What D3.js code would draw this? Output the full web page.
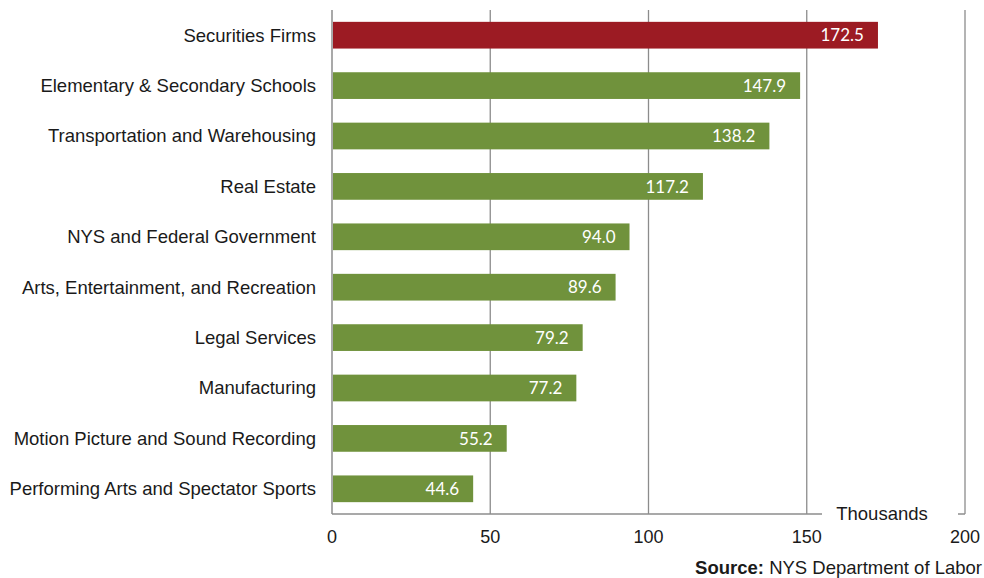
<!DOCTYPE html>
<html>
<head>
<meta charset="utf-8">
<script src="https://cdn.jsdelivr.net/npm/d3@7"></script>
<style>
  html, body { margin: 0; padding: 0; background: #fff; }
  svg { display: block; }
</style>
</head>
<body>
<svg id="chart" width="984" height="578"></svg>
<script>
// Employment by industry, thousands
const categories = [
  "Securities Firms",
  "Elementary & Secondary Schools",
  "Transportation and Warehousing",
  "Real Estate",
  "NYS and Federal Government",
  "Arts, Entertainment, and Recreation",
  "Legal Services",
  "Manufacturing",
  "Motion Picture and Sound Recording",
  "Performing Arts and Spectator Sports"
];
const values = [172.5, 147.9, 138.2, 117.2, 94.0, 89.6, 79.2, 77.2, 55.2, 44.6];
const highlighted = ["Securities Firms"];
const xTicks = [0, 50, 100, 150, 200];

const svg = d3.select("#chart");
const plot = { left: 332, right: 965, top: 10, bottom: 514 };
const labelFont = "'Liberation Sans', Arial, sans-serif";

const x = d3.scaleLinear().domain([0, 200]).range([plot.left, plot.right]);
const y = d3.scaleBand().domain(categories).range([plot.top, plot.bottom]).paddingInner(0.47).paddingOuter(0.235);

const gridColor = "#8c8c8c";

// vertical gridlines
svg.append("g").selectAll("line")
  .data(xTicks.slice(1))
  .join("line")
  .attr("x1", d => x(d)).attr("x2", d => x(d))
  .attr("y1", plot.top).attr("y2", plot.bottom)
  .attr("stroke", gridColor).attr("stroke-width", 1.3);

// bars
svg.append("g").selectAll("rect")
  .data(categories)
  .join("rect")
  .attr("x", x(0) + 1)
  .attr("y", d => y(d))
  .attr("width", (d, i) => x(values[i]) - x(0) - 1)
  .attr("height", y.bandwidth())
  .attr("fill", d => highlighted.includes(d) ? "#9c1b23" : "#70923c");

// value labels inside bars
svg.append("g").selectAll("text")
  .data(categories)
  .join("text")
  .attr("x", (d, i) => x(values[i]) - 14)
  .attr("y", d => y(d) + y.bandwidth() / 2)
  .attr("dy", "0.36em")
  .attr("text-anchor", "end")
  .attr("fill", "#fff")
  .attr("font-family", "Lato, 'Open Sans', sans-serif")
  .attr("font-size", 17)
  .text((d, i) => values[i].toFixed(1));

// category labels
svg.append("g").selectAll("text")
  .data(categories)
  .join("text")
  .attr("x", 316)
  .attr("y", d => y(d) + y.bandwidth() / 2)
  .attr("dy", "0.35em")
  .attr("text-anchor", "end")
  .attr("fill", "#1a1a1a")
  .attr("font-family", labelFont)
  .attr("font-size", 18.5)
  .text(d => d);

// axis frame: left and bottom
svg.append("line")
  .attr("x1", plot.left).attr("x2", plot.left).attr("y1", plot.top).attr("y2", plot.bottom)
  .attr("stroke", gridColor).attr("stroke-width", 1.5);
svg.append("line")
  .attr("x1", plot.left).attr("x2", plot.right).attr("y1", plot.bottom).attr("y2", plot.bottom)
  .attr("stroke", gridColor).attr("stroke-width", 1.5);

// x tick labels
svg.append("g").selectAll("text")
  .data(xTicks)
  .join("text")
  .attr("x", d => x(d))
  .attr("y", 543)
  .attr("text-anchor", "middle")
  .attr("fill", "#1a1a1a")
  .attr("font-family", labelFont)
  .attr("font-size", 18)
  .text(d => d);

// unit label sitting on the baseline
svg.append("rect")
  .attr("x", 822).attr("y", 500).attr("width", 136).attr("height", 22)
  .attr("fill", "#fff");
svg.append("text")
  .attr("x", 882).attr("y", 520)
  .attr("text-anchor", "middle")
  .attr("fill", "#1a1a1a")
  .attr("font-family", labelFont)
  .attr("font-size", 18.5)
  .text("Thousands");

// source note, kept inside the right edge
const src = svg.append("text")
  .attr("x", 982).attr("y", 574)
  .attr("text-anchor", "end")
  .attr("fill", "#1a1a1a")
  .attr("font-family", labelFont)
  .attr("font-size", 18.5);
src.append("tspan").attr("font-weight", "bold").text("Source:");
src.append("tspan").text(" NYS Department of Labor");
</script>
</body>
</html>
